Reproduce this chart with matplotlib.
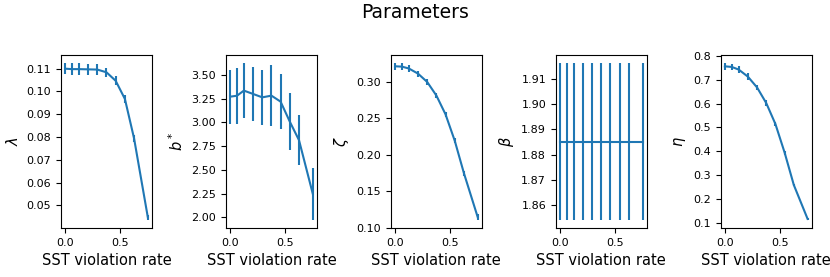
import matplotlib
matplotlib.use("Agg")
import matplotlib.pyplot as plt
from matplotlib.ticker import MultipleLocator

# SST violation rate (x positions shared by all panels)
violation_rate = [0.0, 0.0625, 0.125, 0.208, 0.292, 0.375, 0.458, 0.542, 0.625, 0.75]

# parameter means and std estimates
lam = [0.1100, 0.1098, 0.1098, 0.1097, 0.1096, 0.1084, 0.1047, 0.0967, 0.0794, 0.0447]
lam_err = [0.0025, 0.0025, 0.0025, 0.0024, 0.0023, 0.0021, 0.0019, 0.0017, 0.0015, 0.0012]

b_star = [3.27, 3.28, 3.334, 3.299, 3.263, 3.281, 3.218, 3.006, 2.812, 2.247]
b_star_err = [0.286, 0.293, 0.291, 0.288, 0.291, 0.321, 0.288, 0.298, 0.265, 0.277]

zeta = [0.321, 0.3205, 0.318, 0.311, 0.2995, 0.281, 0.2553, 0.219, 0.1747, 0.1146]
zeta_err = [0.0045, 0.0045, 0.0042, 0.004, 0.0038, 0.0035, 0.0035, 0.0035, 0.0035, 0.004]

beta = [1.8852] * 10
beta_err = [0.0311] * 10

eta = [0.7556, 0.753, 0.742, 0.7126, 0.667, 0.6017, 0.5143, 0.394, 0.259, 0.117]
eta_err = [0.014, 0.014, 0.013, 0.013, 0.012, 0.011, 0.01, 0.008, 0.006, 0.005]

# (values, errors, y label, y tick step)
panels = [
	(lam, lam_err, r"$\lambda$", 0.01),
	(b_star, b_star_err, r"$b^*$", 0.25),
	(zeta, zeta_err, r"$\zeta$", 0.05),
	(beta, beta_err, r"$\beta$", 0.01),
	(eta, eta_err, r"$\eta$", 0.1),
]

fig, axes = plt.subplots(1, 5, figsize=(8.3, 2.77), dpi=100)
fig.subplots_adjust(left=0.0735, right=0.978, bottom=0.177, top=0.801, wspace=0.813)

for ax, (vals, errs, label, step) in zip(axes, panels):
	ax.errorbar(violation_rate, vals, yerr=errs, color="C0")
	ax.set_ylabel(label, fontsize=10.5)
	ax.set_xlabel("SST violation rate", fontsize=10.5)
	ax.set_xticks([0.0, 0.5])
	ax.yaxis.set_major_locator(MultipleLocator(step))
	ax.tick_params(labelsize=8)

fig.suptitle("Parameters", fontsize=13.5, y=0.99)
fig.savefig("out.png", dpi=100)
